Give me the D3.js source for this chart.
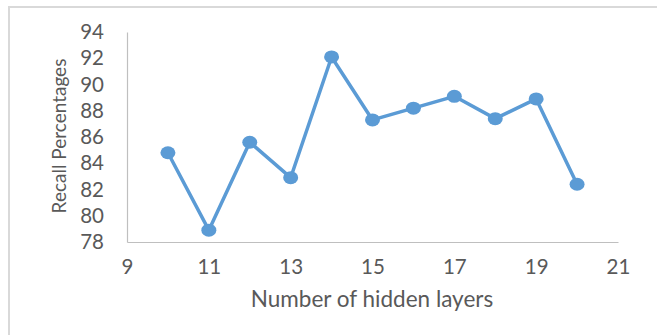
<!DOCTYPE html>
<html>
<head>
<meta charset="utf-8">
<script src="https://cdn.jsdelivr.net/npm/d3@7"></script>
<style>
  html,body{margin:0;padding:0;background:#fff;}
  svg{display:block;}
</style>
</head>
<body>
<div id="chart"></div>
<script>
// hidden layers vs recall
const layers=[10,11,12,13,14,15,16,17,18,19,20];
const recall=[84.8,78.9,85.6,82.9,92.1,87.3,88.2,89.1,87.4,88.9,82.4];
const xTicks=[9,11,13,15,17,19,21];
const yTicks=[78,80,82,84,86,88,90,92,94];

const W=657,H=335;
const FONT="Lato,'Open Sans',sans-serif";
const TXT="#595959";

const svg=d3.select("#chart").append("svg").attr("width",W).attr("height",H);
svg.append("rect").attr("width",W).attr("height",H).attr("fill","#fff");

// frame (only top + left visible)
svg.append("path").attr("d",`M9,${H} V7 H${W}`).attr("fill","none")
  .attr("stroke","#d9d9d9").attr("stroke-width",2);

const x=d3.scaleLinear().domain([9,21]).range([127,618]);
const y=d3.scaleLinear().domain([78,94]).range([242,32]);

// axes
const xAx=svg.append("g").attr("transform",`translate(0,${y(78)})`)
  .call(d3.axisBottom(x).tickValues(xTicks).tickSize(0).tickPadding(17));
const yAx=svg.append("g").attr("transform",`translate(${x(9)},0)`)
  .call(d3.axisLeft(y).tickValues(yTicks).tickSize(0).tickPadding(23));
[xAx,yAx].forEach(a=>{
  a.select(".domain").attr("stroke","#bfbfbf").attr("stroke-width",1.2);
  a.selectAll("text").attr("font-family",FONT).attr("font-size",20.5).attr("fill",TXT);
});

// titles
svg.append("text").attr("x",372).attr("y",307).attr("text-anchor","middle")
  .attr("font-family",FONT).attr("font-size",22.5).attr("fill",TXT).text("Number of hidden layers");
svg.append("text").attr("transform","translate(66,136) rotate(-90)").attr("text-anchor","middle")
  .attr("font-family",FONT).attr("font-size",19).attr("fill",TXT).text("Recall Percentages");

// series
const pts=layers.map((l,i)=>({l,r:recall[i]}));
svg.append("path").datum(pts).attr("fill","none").attr("stroke","#5b9bd5")
  .attr("stroke-width",3.5).attr("stroke-linejoin","round")
  .attr("d",d3.line().x(d=>x(d.l)).y(d=>y(d.r)));
svg.selectAll("ellipse.m").data(pts).join("ellipse").attr("class","m")
  .attr("cx",d=>x(d.l)).attr("cy",d=>y(d.r)).attr("rx",7.5).attr("ry",6.5)
  .attr("fill","#5b9bd5");
</script>
</body>
</html>
